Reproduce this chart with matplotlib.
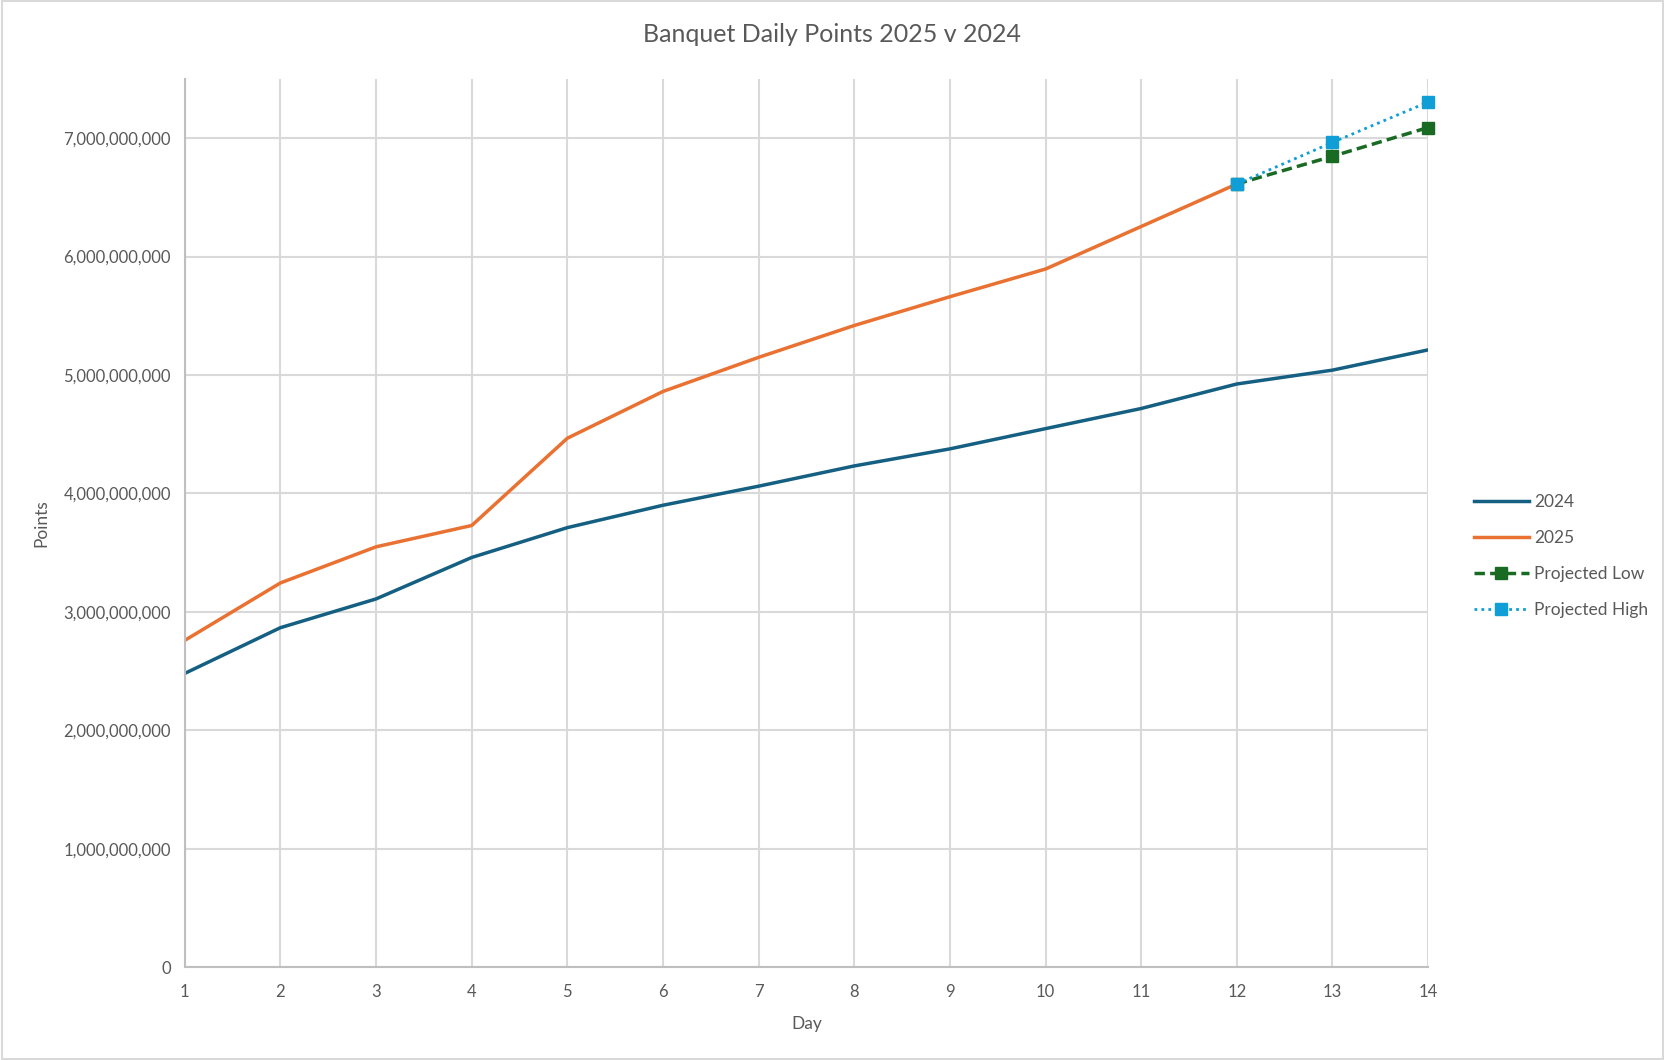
"""Banquet daily points, 2025 against 2024, with two projections."""

import matplotlib
import matplotlib.pyplot as plt
from matplotlib.ticker import FuncFormatter

matplotlib.use("Agg")

days = list(range(1, 15))
points_2024 = [2.48e9, 2.866e9, 3.109e9, 3.459e9, 3.711e9, 3.900e9, 4.061e9,
               4.232e9, 4.376e9, 4.547e9, 4.717e9, 4.924e9, 5.041e9, 5.212e9]
days_2025 = list(range(1, 13))
points_2025 = [2.759e9, 3.244e9, 3.549e9, 3.729e9, 4.466e9, 4.861e9, 5.149e9,
               5.418e9, 5.661e9, 5.895e9, 6.254e9, 6.613e9]
proj_days = [12, 13, 14]
proj_low = [6.613e9, 6.847e9, 7.090e9]
proj_high = [6.613e9, 6.964e9, 7.305e9]

TEXT = "#595959"
plt.rcParams["font.family"] = ["Lato", "DejaVu Sans"]

fig = plt.figure(figsize=(16.65, 10.6), dpi=100)
fig.patches.append(plt.Rectangle((0.001, 0.001), 0.998, 0.998, transform=fig.transFigure,
                                 fill=False, edgecolor="#D9D9D9", linewidth=1.5))
ax = fig.add_axes([0.111, 0.0877, 0.7467, 0.8378])

ax.plot(days, points_2024, color="#156082", linewidth=2.5, label="2024")
ax.plot(days_2025, points_2025, color="#E97132", linewidth=2.5, label="2025")
ax.plot(proj_days, proj_low, color="#196B24", linewidth=2.5, linestyle=(0, (3, 1.5)),
        marker="s", markersize=8, clip_on=False, label="Projected Low")
ax.plot(proj_days, proj_high, color="#0F9ED5", linewidth=2, linestyle=(0, (1, 1.5)),
        marker="s", markersize=8, clip_on=False, label="Projected High")

ax.set_xlim(1, 14)
ax.set_ylim(0, 7.5e9)
ax.set_xticks(days)
ax.set_yticks([i * 1e9 for i in range(8)])
ax.yaxis.set_major_formatter(FuncFormatter(lambda v, _: "{:,.0f}".format(v)))
ax.grid(True, color="#D9D9D9", linewidth=1.5)
ax.set_axisbelow(True)
for side in ("top", "right"):
    ax.spines[side].set_visible(False)
for side in ("left", "bottom"):
    ax.spines[side].set_color("#BFBFBF")
    ax.spines[side].set_linewidth(1.5)
ax.tick_params(axis="y", length=0, labelsize=12, colors=TEXT, pad=10)
ax.tick_params(axis="x", length=0, labelsize=12, colors=TEXT, pad=12)

ax.set_xlabel("Day", fontsize=12.5, color=TEXT, labelpad=12)
ax.set_ylabel("Points", fontsize=12.5, color=TEXT, labelpad=10)
fig.suptitle("Banquet Daily Points 2025 v 2024", fontsize=18, color=TEXT,
             y=0.967, va="center")

ax.legend(loc="center left", bbox_to_anchor=(1.024, 0.463), frameon=False, fontsize=12.5,
          labelcolor=TEXT, handlelength=3.2, handletextpad=0.3, labelspacing=1.15,
          markerscale=1)

fig.savefig("out.png", dpi=100)
